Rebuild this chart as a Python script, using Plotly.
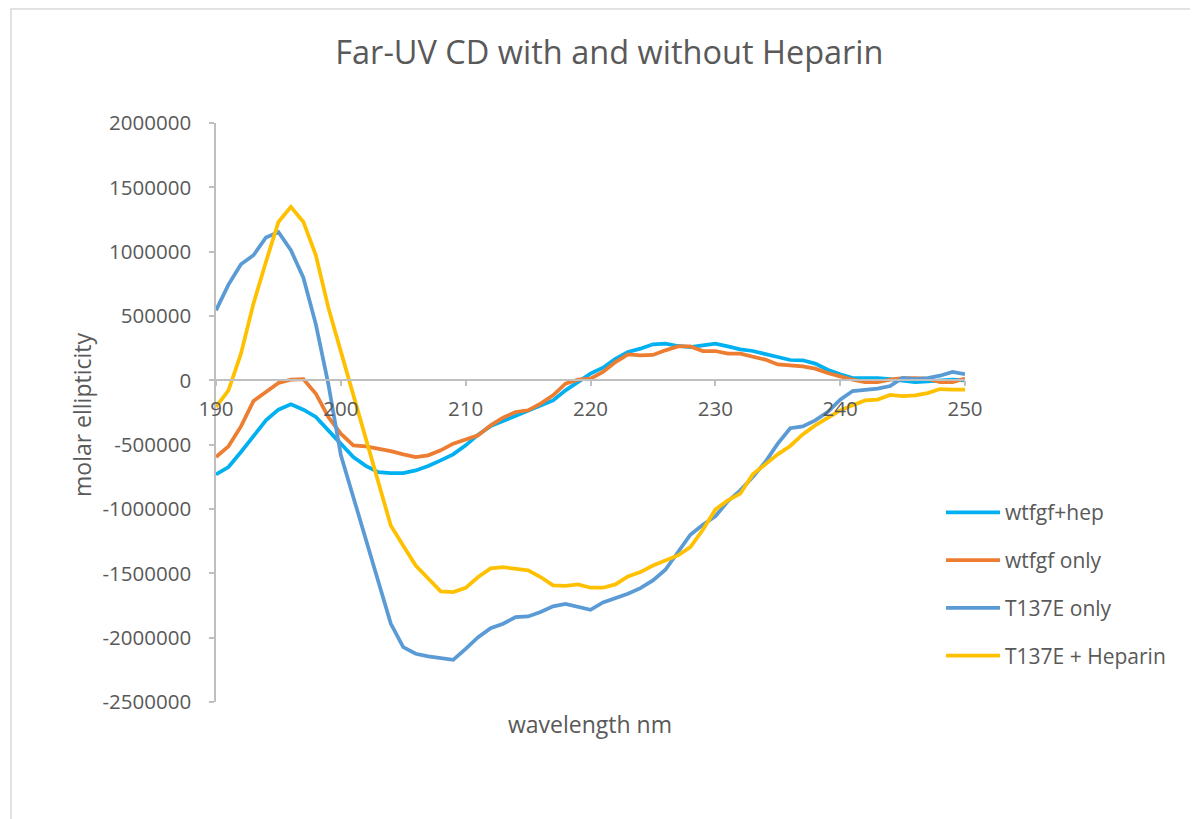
import plotly.graph_objects as go

wavelength = list(range(190, 251))

wtfgf_hep = [-731000, -674000, -557000, -428000, -311000, -228000, -187000, -228000, -285000, -389000,
             -492000, -596000, -665000, -713000, -721000, -721000, -700000, -666000, -622000, -575000,
             -505000, -422000, -356000, -316000, -277000, -233000, -194000, -156000, -78000, -13000,
             52000, 98000, 168000, 220000, 246000, 280000, 285000, 267000, 259000, 272000,
             285000, 264000, 241000, 228000, 202000, 181000, 158000, 156000, 130000, 83000,
             47000, 18000, 18000, 18000, 10000, 0, -13000, -8000, 0, 5000, 0]

wtfgf_only = [-596000, -513000, -358000, -161000, -91000, -21000, 5000, 10000, -104000, -285000,
              -415000, -505000, -513000, -531000, -550000, -575000, -596000, -583000, -544000, -492000,
              -461000, -428000, -350000, -290000, -246000, -233000, -181000, -117000, -26000, 5000,
              13000, 65000, 142000, 202000, 194000, 197000, 233000, 264000, 264000, 228000,
              228000, 207000, 207000, 187000, 161000, 124000, 115000, 109000, 91000, 57000,
              31000, 5000, -13000, -13000, 5000, 18000, 18000, 13000, -13000, -13000, 13000]

t137e_only = [544000, 744000, 902000, 972000, 1110000, 1153000, 1011000, 798000, 435000, -30000,
              -580000, -910000, -1240000, -1570000, -1890000, -2074000, -2125000, -2145000, -2160000, -2172000,
              -2087000, -1996000, -1926000, -1892000, -1840000, -1835000, -1801000, -1757000, -1737000, -1760000,
              -1783000, -1726000, -1695000, -1659000, -1615000, -1555000, -1472000, -1330000, -1200000, -1122000,
              -1057000, -940000, -855000, -752000, -635000, -492000, -372000, -358000, -311000, -246000,
              -150000, -83000, -72000, -65000, -44000, 18000, 10000, 18000, 36000, 65000, 49000]

t137e_hep = [-207000, -78000, 207000, 596000, 920000, 1231000, 1348000, 1231000, 972000, 565000,
             225000, -120000, -460000, -800000, -1128000, -1285000, -1439000, -1540000, -1640000, -1646000,
             -1613000, -1529000, -1462000, -1452000, -1467000, -1477000, -1529000, -1594000, -1597000, -1586000,
             -1612000, -1612000, -1586000, -1524000, -1490000, -1439000, -1400000, -1361000, -1296000, -1161000,
             -1005000, -933000, -881000, -731000, -653000, -575000, -510000, -420000, -350000, -290000,
             -233000, -194000, -156000, -150000, -114000, -122000, -117000, -99000, -68000, -72000, -72000]

series_names = ["wtfgf+hep", "wtfgf only", "T137E only", "T137E + Heparin"]
series_values = [wtfgf_hep, wtfgf_only, t137e_only, t137e_hep]
series_colors = ["#00B0F0", "#ED7D31", "#5B9BD5", "#FFC000"]

x_ticks = [190, 200, 210, 220, 230, 240, 250]
y_ticks = [2000000, 1500000, 1000000, 500000, 0, -500000, -1000000, -1500000, -2000000, -2500000]

FONT = "Open Sans"
GREY_TEXT = "#595959"
AXIS_COL = "#BFBFBF"

fig = go.Figure()
for i, (name, vals, col) in enumerate(zip(series_names, series_values, series_colors)):
    fig.add_trace(go.Scatter(
        x=wavelength, y=vals, mode="lines", name=name,
        line=dict(color=col, width=3.75),
        legendgroup=f"g{i}",
    ))

y_min, y_max = -2500000, 2000000
zero_pos = (0 - y_min) / (y_max - y_min)

fig.update_layout(
    width=1198, height=819,
    margin=dict(l=208, r=241, t=115, b=125),
    paper_bgcolor="white", plot_bgcolor="white",
    font=dict(family=FONT, color=GREY_TEXT, size=16),
    title=dict(text="Far-UV CD with and without Heparin", x=0.502, xref="container", xanchor="center",
               y=1 - 45 / 819, yref="container", yanchor="middle",
               font=dict(family=FONT, size=32.5, color=GREY_TEXT)),
    xaxis=dict(range=[190, 250], tickvals=x_ticks, ticktext=[str(v) for v in x_ticks],
               showgrid=False, zeroline=False, showline=True, linecolor=AXIS_COL, linewidth=1.5,
               ticks="outside", ticklen=5, tickcolor=AXIS_COL, tickwidth=1.5,
               anchor="free", position=zero_pos, ticklabelstandoff=5,
               tickfont=dict(family=FONT, size=20.5, color=GREY_TEXT)),
    yaxis=dict(range=[y_min, y_max], tickvals=y_ticks, ticktext=[str(v) for v in y_ticks],
               showgrid=False, zeroline=False, showline=True, linecolor=AXIS_COL, linewidth=1.5,
               ticks="outside", ticklen=5, tickcolor=AXIS_COL, tickwidth=1.5,
               ticklabelstandoff=14,
               tickfont=dict(family=FONT, size=20.5, color=GREY_TEXT)),
    legend=dict(x=0.968, y=0.3625, xanchor="left", yanchor="top",
                traceorder="grouped", tracegroupgap=17.5, itemwidth=54,
                font=dict(family=FONT, size=21, color=GREY_TEXT),
                bgcolor="rgba(0,0,0,0)"),
    showlegend=True,
)

fig.add_annotation(text="molar ellipticity", x=(82 - 216) / 749, y=(702 - 415) / 579,
                   xref="paper", yref="paper", showarrow=False, textangle=-90,
                   xanchor="center", yanchor="middle",
                   font=dict(family=FONT, size=23, color=GREY_TEXT))
fig.add_annotation(text="wavelength nm", x=(590 - 216) / 749, y=(702 - 724) / 579,
                   xref="paper", yref="paper", showarrow=False,
                   xanchor="center", yanchor="middle",
                   font=dict(family=FONT, size=23, color=GREY_TEXT))

# chart area border (cut off at right/bottom like the reference)
fig.add_shape(type="rect", xref="paper", yref="paper",
              x0=(11 - 216) / 749, x1=1.6, y0=-0.6, y1=(702 - 9) / 579,
              line=dict(color="#D9D9D9", width=1.5), fillcolor="rgba(0,0,0,0)", layer="below")

fig.write_html("out.html")
